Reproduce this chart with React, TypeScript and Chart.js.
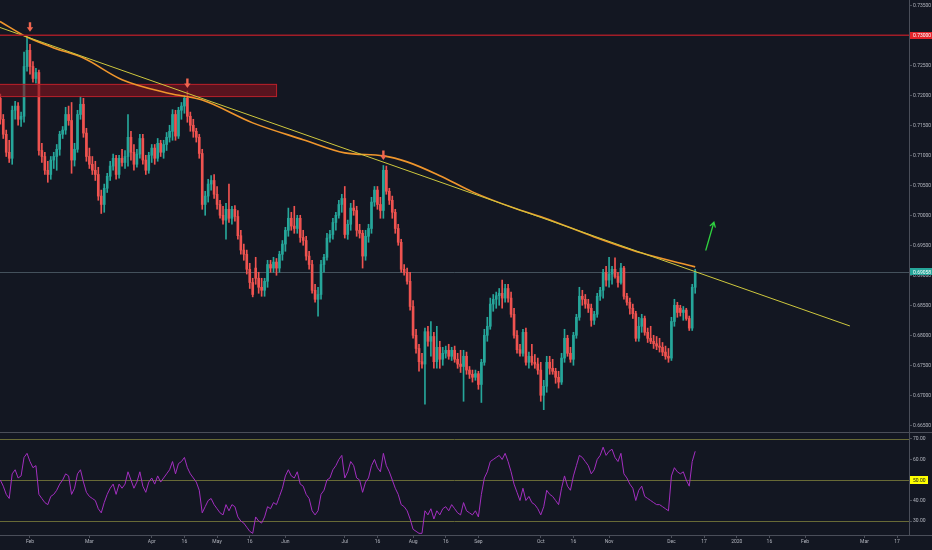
import React, { useEffect, useRef } from 'react';
import { Chart, registerables } from 'chart.js';

Chart.register(...registerables);

// ---- daily candles (index 0 = 18 Jan 2019, trading days only) ----
const opens = [
  0.7195, 0.7160, 0.7135, 0.7105, 0.7095, 0.7175, 0.7182, 0.7160, 0.7165, 0.7248,
  0.7275, 0.7248, 0.7228, 0.7238, 0.7108, 0.7098, 0.7075, 0.7068, 0.7092, 0.7098,
  0.7110, 0.7135, 0.7142, 0.7168, 0.7158, 0.7092, 0.7110, 0.7168, 0.7185, 0.7137,
  0.7098, 0.7085, 0.7075, 0.7068, 0.7032, 0.7018, 0.7045, 0.7065, 0.7082, 0.7095,
  0.7068, 0.7095, 0.7088, 0.7098, 0.7130, 0.7105, 0.7085, 0.7102, 0.7128, 0.7092,
  0.7075, 0.7100, 0.7112, 0.7095, 0.7120, 0.7105, 0.7118, 0.7130, 0.7140, 0.7168,
  0.7132, 0.7175, 0.7182, 0.7195, 0.7165, 0.7150, 0.7140, 0.7130, 0.7103, 0.7018,
  0.7032, 0.7052, 0.7058, 0.7035, 0.7018, 0.7000, 0.6992, 0.7010, 0.6995, 0.7010,
  0.6998, 0.6966, 0.6942, 0.6935, 0.6910, 0.6888, 0.6912, 0.6895, 0.6880, 0.6875,
  0.6890, 0.6918, 0.6912, 0.6922, 0.6912, 0.6935, 0.6952, 0.6975, 0.6995, 0.6982,
  0.6978, 0.6995, 0.6963, 0.6958, 0.6932, 0.6918, 0.6875, 0.6860, 0.6868, 0.6918,
  0.6930, 0.6962, 0.6968, 0.6988, 0.7000, 0.7018, 0.7028, 0.6968, 0.6985, 0.7012,
  0.7008, 0.6975, 0.6970, 0.6932, 0.6965, 0.6978, 0.7022, 0.7042, 0.7018, 0.7008,
  0.7075, 0.7040, 0.7025, 0.7005, 0.6978, 0.6955, 0.6910, 0.6905, 0.6890, 0.6848,
  0.6800, 0.6778, 0.6756, 0.6752, 0.6806, 0.6790, 0.6798, 0.6756, 0.6780, 0.6760,
  0.6770, 0.6775, 0.6765, 0.6775, 0.6760, 0.6752, 0.6748, 0.6765, 0.6742, 0.6735,
  0.6730, 0.6736, 0.6718, 0.6755, 0.6800, 0.6815, 0.6852, 0.6860, 0.6866, 0.6870,
  0.6862, 0.6878, 0.6862, 0.6835, 0.6800, 0.6776, 0.6770, 0.6805, 0.6755, 0.6765,
  0.6755, 0.6752, 0.6742, 0.6700, 0.6715, 0.6755, 0.6745, 0.6740, 0.6730, 0.6722,
  0.6762, 0.6795, 0.6770, 0.6760, 0.6800, 0.6830, 0.6865, 0.6860, 0.6852, 0.6845,
  0.6825, 0.6835, 0.6865, 0.6875, 0.6905, 0.6892, 0.6902, 0.6910, 0.6898, 0.6888,
  0.6912, 0.6865, 0.6855, 0.6845, 0.6836, 0.6795, 0.6815, 0.6828, 0.6805, 0.6795,
  0.6790, 0.6786, 0.6782, 0.6780, 0.6772, 0.6765, 0.6762, 0.6823, 0.6850, 0.6845,
  0.6838, 0.6842, 0.6828, 0.6812, 0.6880,
];
const highs = [
  0.7202, 0.7168, 0.7142, 0.7125, 0.7182, 0.7190, 0.7188, 0.7172, 0.7272, 0.7296,
  0.7285, 0.7256, 0.7245, 0.7242, 0.7120, 0.7105, 0.7090, 0.7098, 0.7105, 0.7118,
  0.7140, 0.7148, 0.7180, 0.7182, 0.7188, 0.7120, 0.7175, 0.7198, 0.7195, 0.7145,
  0.7112, 0.7098, 0.7090, 0.7080, 0.7042, 0.7052, 0.7070, 0.7090, 0.7102, 0.7100,
  0.7100, 0.7110, 0.7108, 0.7168, 0.7140, 0.7118, 0.7110, 0.7135, 0.7135, 0.7100,
  0.7105, 0.7118, 0.7118, 0.7128, 0.7125, 0.7125, 0.7138, 0.7150, 0.7176, 0.7175,
  0.7180, 0.7188, 0.7200, 0.7207, 0.7172, 0.7160, 0.7145, 0.7135, 0.7110, 0.7040,
  0.7060, 0.7066, 0.7068, 0.7048, 0.7025, 0.7015, 0.7020, 0.7052, 0.7015, 0.7016,
  0.7008, 0.6975, 0.6952, 0.6942, 0.6920, 0.6895, 0.6930, 0.6905, 0.6895, 0.6895,
  0.6925, 0.6925, 0.6930, 0.6928, 0.6940, 0.6958, 0.6980, 0.7012, 0.7005, 0.7015,
  0.7000, 0.7000, 0.6975, 0.6965, 0.6940, 0.6925, 0.6885, 0.6880, 0.6925, 0.6935,
  0.6970, 0.6975, 0.6995, 0.7005, 0.7025, 0.7035, 0.7048, 0.6992, 0.7020, 0.7025,
  0.7015, 0.6985, 0.6975, 0.6975, 0.6985, 0.7030, 0.7048, 0.7048, 0.7030, 0.7083,
  0.7082, 0.7045, 0.7032, 0.7010, 0.6985, 0.6960, 0.6918, 0.6912, 0.6905, 0.6858,
  0.6810, 0.6785, 0.6770, 0.6812, 0.6815, 0.6823, 0.6805, 0.6815, 0.6790, 0.6780,
  0.6782, 0.6785, 0.6780, 0.6782, 0.6770, 0.6775, 0.6775, 0.6772, 0.6748, 0.6742,
  0.6742, 0.6740, 0.6760, 0.6810, 0.6830, 0.6862, 0.6868, 0.6872, 0.6878, 0.6892,
  0.6885, 0.6885, 0.6872, 0.6845, 0.6808, 0.6785, 0.6810, 0.6812, 0.6772, 0.6785,
  0.6768, 0.6762, 0.6755, 0.6725, 0.6765, 0.6765, 0.6760, 0.6745, 0.6740, 0.6770,
  0.6810, 0.6800, 0.6780, 0.6805, 0.6835, 0.6880, 0.6875, 0.6868, 0.6860, 0.6852,
  0.6840, 0.6870, 0.6880, 0.6910, 0.6915, 0.6930, 0.6915, 0.6929, 0.6905, 0.6920,
  0.6915, 0.6870, 0.6862, 0.6852, 0.6840, 0.6830, 0.6835, 0.6832, 0.6812, 0.6815,
  0.6800, 0.6798, 0.6795, 0.6788, 0.6782, 0.6778, 0.6830, 0.6860, 0.6855, 0.6850,
  0.6848, 0.6845, 0.6832, 0.6885, 0.6910,
];
const lows = [
  0.7152, 0.7128, 0.7098, 0.7088, 0.7085, 0.7160, 0.7150, 0.7148, 0.7155, 0.7240,
  0.7235, 0.7222, 0.7220, 0.7100, 0.7088, 0.7068, 0.7055, 0.7060, 0.7078, 0.7075,
  0.7100, 0.7128, 0.7135, 0.7150, 0.7070, 0.7082, 0.7105, 0.7160, 0.7130, 0.7090,
  0.7078, 0.7068, 0.7058, 0.7025, 0.7003, 0.7005, 0.7038, 0.7058, 0.7075, 0.7060,
  0.7062, 0.7082, 0.7078, 0.7082, 0.7092, 0.7075, 0.7080, 0.7095, 0.7085, 0.7068,
  0.7070, 0.7088, 0.7085, 0.7090, 0.7098, 0.7095, 0.7108, 0.7122, 0.7125, 0.7125,
  0.7128, 0.7160, 0.7170, 0.7155, 0.7140, 0.7130, 0.7122, 0.7095, 0.7010, 0.7000,
  0.7022, 0.7042, 0.7028, 0.7010, 0.6995, 0.6985, 0.6960, 0.6988, 0.6985, 0.6990,
  0.6960, 0.6935, 0.6925, 0.6902, 0.6878, 0.6864, 0.6885, 0.6870, 0.6865, 0.6865,
  0.6880, 0.6905, 0.6905, 0.6900, 0.6905, 0.6925, 0.6940, 0.6965, 0.6975, 0.6970,
  0.6970, 0.6955, 0.6950, 0.6925, 0.6910, 0.6870, 0.6855, 0.6832, 0.6860, 0.6905,
  0.6925, 0.6955, 0.6960, 0.6975, 0.6995, 0.7005, 0.6962, 0.6960, 0.6975, 0.7000,
  0.6965, 0.6962, 0.6912, 0.6925, 0.6955, 0.6970, 0.7015, 0.7010, 0.6995, 0.6995,
  0.7035, 0.7018, 0.6995, 0.6970, 0.6950, 0.6905, 0.6900, 0.6885, 0.6842, 0.6795,
  0.6770, 0.6740, 0.6745, 0.6685, 0.6782, 0.6765, 0.6745, 0.6745, 0.6745, 0.6750,
  0.6762, 0.6760, 0.6758, 0.6755, 0.6745, 0.6738, 0.6690, 0.6735, 0.6728, 0.6722,
  0.6725, 0.6710, 0.6688, 0.6750, 0.6790, 0.6810, 0.6840, 0.6845, 0.6850, 0.6845,
  0.6855, 0.6855, 0.6830, 0.6795, 0.6770, 0.6765, 0.6765, 0.6750, 0.6745, 0.6750,
  0.6745, 0.6735, 0.6690, 0.6676, 0.6705, 0.6735, 0.6735, 0.6720, 0.6712, 0.6718,
  0.6755, 0.6765, 0.6755, 0.6750, 0.6795, 0.6825, 0.6850, 0.6845, 0.6838, 0.6815,
  0.6818, 0.6830, 0.6858, 0.6862, 0.6882, 0.6880, 0.6885, 0.6895, 0.6880, 0.6885,
  0.6860, 0.6850, 0.6835, 0.6828, 0.6790, 0.6790, 0.6805, 0.6800, 0.6788, 0.6786,
  0.6778, 0.6776, 0.6772, 0.6766, 0.6760, 0.6755, 0.6758, 0.6815, 0.6830, 0.6832,
  0.6825, 0.6825, 0.6808, 0.6808, 0.6870,
];
const closes = [
  0.7160, 0.7135, 0.7105, 0.7095, 0.7175, 0.7182, 0.7160, 0.7165, 0.7248, 0.7275,
  0.7248, 0.7228, 0.7238, 0.7108, 0.7098, 0.7075, 0.7068, 0.7092, 0.7098, 0.7110,
  0.7135, 0.7142, 0.7168, 0.7158, 0.7092, 0.7110, 0.7168, 0.7185, 0.7137, 0.7098,
  0.7085, 0.7075, 0.7068, 0.7032, 0.7018, 0.7045, 0.7065, 0.7082, 0.7095, 0.7068,
  0.7095, 0.7088, 0.7098, 0.7130, 0.7105, 0.7085, 0.7102, 0.7128, 0.7092, 0.7075,
  0.7100, 0.7112, 0.7095, 0.7120, 0.7105, 0.7118, 0.7130, 0.7140, 0.7168, 0.7132,
  0.7175, 0.7182, 0.7195, 0.7165, 0.7150, 0.7140, 0.7130, 0.7103, 0.7018, 0.7032,
  0.7052, 0.7058, 0.7035, 0.7018, 0.7000, 0.6992, 0.7010, 0.6995, 0.7010, 0.6998,
  0.6966, 0.6942, 0.6935, 0.6910, 0.6888, 0.6868, 0.6895, 0.6880, 0.6875, 0.6890,
  0.6918, 0.6912, 0.6922, 0.6912, 0.6935, 0.6952, 0.6975, 0.6995, 0.6982, 0.6978,
  0.6995, 0.6963, 0.6958, 0.6932, 0.6918, 0.6875, 0.6860, 0.6868, 0.6918, 0.6930,
  0.6962, 0.6968, 0.6988, 0.7000, 0.7018, 0.7028, 0.6968, 0.6985, 0.7012, 0.7008,
  0.6975, 0.6970, 0.6932, 0.6965, 0.6978, 0.7022, 0.7042, 0.7018, 0.7008, 0.7075,
  0.7040, 0.7025, 0.7005, 0.6978, 0.6955, 0.6910, 0.6905, 0.6890, 0.6848, 0.6800,
  0.6778, 0.6756, 0.6752, 0.6806, 0.6790, 0.6798, 0.6756, 0.6780, 0.6760, 0.6770,
  0.6775, 0.6765, 0.6775, 0.6760, 0.6752, 0.6748, 0.6765, 0.6742, 0.6735, 0.6730,
  0.6736, 0.6718, 0.6755, 0.6800, 0.6815, 0.6852, 0.6860, 0.6866, 0.6870, 0.6862,
  0.6878, 0.6862, 0.6835, 0.6800, 0.6776, 0.6770, 0.6805, 0.6755, 0.6765, 0.6755,
  0.6752, 0.6742, 0.6700, 0.6715, 0.6755, 0.6745, 0.6740, 0.6730, 0.6722, 0.6762,
  0.6795, 0.6770, 0.6760, 0.6800, 0.6830, 0.6865, 0.6860, 0.6852, 0.6845, 0.6825,
  0.6835, 0.6865, 0.6875, 0.6905, 0.6892, 0.6902, 0.6910, 0.6898, 0.6888, 0.6912,
  0.6865, 0.6855, 0.6845, 0.6836, 0.6795, 0.6815, 0.6828, 0.6805, 0.6795, 0.6790,
  0.6786, 0.6782, 0.6780, 0.6772, 0.6765, 0.6762, 0.6823, 0.6850, 0.6838, 0.6838,
  0.6842, 0.6828, 0.6812, 0.6880, 0.69058,
];

// ---- RSI (one value per candle) ----
const rsiValues = [
  50, 47, 43, 41, 53, 55, 51, 52, 61, 63,
  59, 56, 57, 43, 41, 39, 38, 42, 43, 45,
  48, 50, 53, 52, 43, 46, 53, 55, 49, 44,
  42, 41, 40, 36, 34, 39, 43, 46, 48, 43,
  48, 46, 48, 54, 50, 46, 49, 54, 47, 44,
  49, 51, 48, 52, 49, 51, 53, 55, 59, 53,
  58, 59, 61, 56, 53, 51, 49, 45, 34, 37,
  40, 41, 38, 36, 34, 33, 38, 35, 38, 37,
  32, 30, 29, 27, 25, 24, 32, 30, 29, 32,
  37, 36, 39, 38, 42, 46, 52, 55, 52, 51,
  54, 48, 47, 43, 41, 35, 33, 35, 43, 45,
  50, 51, 55, 57, 60, 62, 51, 54, 59, 57,
  51, 50, 44, 49, 51, 57, 60, 56, 54, 63,
  57, 54, 50, 46, 43, 38, 37, 35, 31, 26,
  25, 24, 24, 35, 33, 36, 31, 35, 33, 36,
  37, 35, 38, 36, 34, 33, 39, 35, 34, 33,
  35, 32, 43, 51, 54, 59, 60, 61, 62, 60,
  63, 59, 54, 48, 44, 40, 46, 40, 42, 39,
  38, 36, 33, 37, 45, 43, 42, 40, 38, 46,
  52, 47, 45, 52, 57, 62, 61, 59, 57, 53,
  55, 60, 62, 66, 62, 64, 65, 61, 59, 63,
  53, 51, 48, 46, 40, 45, 47, 42, 41, 40,
  39, 38, 38, 37, 36, 35, 52, 56, 54, 53,
  54, 50, 47, 59, 64,
];

// ---- moving average (orange) read at sample days ----
const maDays = [-0.1, 9, 18, 28, 41, 57, 68, 85, 102, 116, 129, 137, 148, 159, 173, 183, 200, 216, 234];
const maValues = [0.7323, 0.7297, 0.7279, 0.7262, 0.7226, 0.7203, 0.7192, 0.7154, 0.7126, 0.7104, 0.7099, 0.7089, 0.7066, 0.7039, 0.7012, 0.6996, 0.6964, 0.6937, 0.6914];

// ---- drawings ----
const trendDays = [-0.1, 286.1];
const trendValues = [0.7313, 0.68155];
const zoneDays = [-1, 93.2];
const zonePrices = [0.7197, 0.7219];
const resistanceLevel = 0.73;
const lastPrice = 0.69058;
const arrowDays = [10, 63, 129];
const arrowPrices = [0.7306, 0.7212, 0.7092];
const greenArrowDays = [237.6, 240.3];
const greenArrowPrices = [0.69421, 0.69883];

// ---- axes ----
const tickDays = [10, 30, 51, 62, 73, 84, 96, 116, 127, 139, 150, 161, 182, 193, 205, 226, 237, 248, 259, 271, 291, 302];
const tickLabels = ['Feb', 'Mar', 'Apr', '16', 'May', '16', 'Jun', 'Jul', '16', 'Aug', '16', 'Sep', 'Oct', '16', 'Nov', 'Dec', '17', '2020', '16', 'Feb', 'Mar', '17'];
const priceTicks = [0.665, 0.67, 0.675, 0.68, 0.685, 0.69, 0.695, 0.7, 0.705, 0.71, 0.715, 0.72, 0.725, 0.73, 0.735];
const rsiTicks = [30, 40, 50, 60, 70];
const rsiLevels = [70, 50, 30];

const X_MIN = -0.1;
const X_MAX = 306;
const P_MIN = 0.66388;
const P_MAX = 0.73588;
const R_MIN = 23.2;
const R_MAX = 73.4;

const BG = '#131722';
const UP = '#26a69a';
const DOWN = '#ef5350';
const FONT = 'Roboto, "Liberation Sans", "DejaVu Sans", sans-serif';
const TEXT = '#b2b5be';
const LINE = '#4a4e59';

function candleColor(c: any) {
  const i = c.dataIndex;
  return closes[i] >= opens[i] ? UP : DOWN;
}

function drawTag(ctx: any, x: number, yc: number, w: number, h: number, bg: string, fg: string, text: string) {
  ctx.save();
  ctx.fillStyle = bg;
  ctx.fillRect(x, Math.round(yc - h / 2), w, h);
  ctx.fillStyle = fg;
  ctx.font = `5px ${FONT}`;
  ctx.textAlign = 'left';
  ctx.textBaseline = 'middle';
  ctx.fillText(text, x + 3, yc + 0.5);
  ctx.restore();
}

function noPadding(s: any) {
  s.paddingTop = 0;
  s.paddingBottom = 0;
  s.paddingLeft = 0;
  s.paddingRight = 0;
}

const priceOverlay = {
  id: 'priceOverlay',
  beforeDatasetsDraw(chart: any) {
    const { ctx, chartArea, scales } = chart;
    const py = Math.round(scales.y.getPixelForValue(lastPrice)) + 0.5;
    ctx.save();
    ctx.strokeStyle = 'rgba(110,130,140,0.55)';
    ctx.lineWidth = 1;
    ctx.beginPath();
    ctx.moveTo(chartArea.left, py);
    ctx.lineTo(chartArea.right, py);
    ctx.stroke();
    ctx.restore();
  },
  afterDatasetDraw(chart: any, args: any) {
    if (args.index !== 1) return;
    const { ctx, scales } = chart;
    const x0 = scales.x.getPixelForValue(zoneDays[0]);
    const x1 = scales.x.getPixelForValue(zoneDays[1]);
    const y0 = scales.y.getPixelForValue(zonePrices[1]);
    const y1 = scales.y.getPixelForValue(zonePrices[0]);
    ctx.save();
    ctx.fillStyle = 'rgba(135, 18, 30, 0.6)';
    ctx.fillRect(x0, y0, x1 - x0, y1 - y0);
    ctx.strokeStyle = 'rgba(200, 35, 45, 0.85)';
    ctx.lineWidth = 1;
    ctx.strokeRect(x0 + 0.5, y0 + 0.5, x1 - x0 - 1, y1 - y0 - 1);
    ctx.restore();
  },
  afterDatasetsDraw(chart: any) {
    const { ctx, chartArea, scales } = chart;
    ctx.save();
    const ry = scales.y.getPixelForValue(resistanceLevel);
    ctx.strokeStyle = '#a11d27';
    ctx.lineWidth = 1.6;
    ctx.beginPath();
    ctx.moveTo(chartArea.left, ry);
    ctx.lineTo(chartArea.right, ry);
    ctx.stroke();
    ctx.fillStyle = '#f0654f';
    arrowDays.forEach((d, i) => {
      const x = scales.x.getPixelForValue(d);
      const y = scales.y.getPixelForValue(arrowPrices[i]);
      ctx.beginPath();
      ctx.moveTo(x, y);
      ctx.lineTo(x - 3.2, y - 4.5);
      ctx.lineTo(x - 1.2, y - 4.5);
      ctx.lineTo(x - 1.2, y - 9.5);
      ctx.lineTo(x + 1.2, y - 9.5);
      ctx.lineTo(x + 1.2, y - 4.5);
      ctx.lineTo(x + 3.2, y - 4.5);
      ctx.closePath();
      ctx.fill();
    });
    const gx0 = scales.x.getPixelForValue(greenArrowDays[0]);
    const gx1 = scales.x.getPixelForValue(greenArrowDays[1]);
    const gy0 = scales.y.getPixelForValue(greenArrowPrices[0]);
    const gy1 = scales.y.getPixelForValue(greenArrowPrices[1]);
    const ang = Math.atan2(gy1 - gy0, gx1 - gx0);
    ctx.strokeStyle = '#2fd13f';
    ctx.lineWidth = 1.3;
    ctx.lineCap = 'round';
    ctx.beginPath();
    ctx.moveTo(gx0, gy0);
    ctx.lineTo(gx1, gy1);
    ctx.moveTo(gx1 - 5 * Math.cos(ang - 0.55), gy1 - 5 * Math.sin(ang - 0.55));
    ctx.lineTo(gx1, gy1);
    ctx.lineTo(gx1 - 5 * Math.cos(ang + 0.55), gy1 - 5 * Math.sin(ang + 0.55));
    ctx.stroke();
    ctx.restore();
  },
  afterDraw(chart: any) {
    const { ctx, chartArea, scales } = chart;
    const x = chartArea.right + 1;
    drawTag(ctx, x, scales.y.getPixelForValue(resistanceLevel), 22, 7, '#e2242b', '#ffffff', resistanceLevel.toFixed(5));
    drawTag(ctx, x, scales.y.getPixelForValue(lastPrice), 22, 7, '#26a69a', '#ffffff', lastPrice.toFixed(5));
  },
};

const rsiOverlay = {
  id: 'rsiOverlay',
  beforeDatasetsDraw(chart: any) {
    const { ctx, chartArea, scales } = chart;
    ctx.save();
    ctx.strokeStyle = '#686a36';
    ctx.lineWidth = 1;
    rsiLevels.forEach((lv) => {
      const y = Math.round(scales.y.getPixelForValue(lv)) + 0.5;
      ctx.beginPath();
      ctx.moveTo(chartArea.left, y);
      ctx.lineTo(chartArea.right, y);
      ctx.stroke();
    });
    ctx.restore();
  },
  afterDraw(chart: any) {
    const { ctx, chartArea, width, scales } = chart;
    ctx.save();
    ctx.strokeStyle = LINE;
    ctx.lineWidth = 1;
    ctx.beginPath();
    ctx.moveTo(0, 0.5);
    ctx.lineTo(width, 0.5);
    const by = Math.round(chartArea.bottom) + 0.5;
    ctx.moveTo(0, by);
    ctx.lineTo(width, by);
    ctx.stroke();
    ctx.restore();
    drawTag(ctx, chartArea.right + 1, scales.y.getPixelForValue(50), 18, 8, '#ffff00', '#131722', '50.00');
  },
};

const axisTicks = { color: TEXT, font: { size: 5, family: FONT }, padding: 1, autoSkip: false, maxRotation: 0 };
const axisGrid = { drawOnChartArea: false, drawTicks: true, tickLength: 3, color: LINE };

export default function App() {
  const refA = useRef<HTMLCanvasElement | null>(null);
  const refB = useRef<HTMLCanvasElement | null>(null);

  useEffect(() => {
    if (!refA.current || !refB.current) return;
    const wickData = highs.map((h, i) => ({ x: i, y: [lows[i], h] }));
    const bodyData = opens.map((o, i) => ({ x: i, y: [o, closes[i]] }));
    const maData = maDays.map((d, i) => ({ x: d, y: maValues[i] }));
    const trendData = trendDays.map((d, i) => ({ x: d, y: trendValues[i] }));
    const rsiData = rsiValues.map((v, i) => ({ x: i, y: v }));

    const chartA = new Chart(refA.current, {
      type: 'bar',
      data: {
        datasets: [
          { type: 'bar', label: 'wicks', data: wickData as any, backgroundColor: candleColor, borderWidth: 0, barThickness: 1, grouped: false, order: 3 } as any,
          { type: 'bar', label: 'bodies', data: bodyData as any, backgroundColor: candleColor, borderWidth: 0, barThickness: 2, minBarLength: 1, grouped: false, order: 2 } as any,
          { type: 'line', label: 'MA', data: maData as any, borderColor: '#f0962c', borderWidth: 1.6, pointRadius: 0, tension: 0.4, cubicInterpolationMode: 'monotone', order: 1 } as any,
          { type: 'line', label: 'Trend', data: trendData as any, borderColor: '#cfc83e', borderWidth: 1, pointRadius: 0, order: 0 } as any,
        ],
      },
      options: {
        animation: false,
        responsive: false,
        devicePixelRatio: 1,
        events: [],
        layout: { padding: 0 },
        plugins: { legend: { display: false }, tooltip: { enabled: false } },
        scales: {
          x: { type: 'linear', display: false, min: X_MIN, max: X_MAX, offset: false, grid: { offset: false } },
          y: {
            type: 'linear',
            position: 'right',
            min: P_MIN,
            max: P_MAX,
            beginAtZero: false,
            afterFit: (s: any) => { s.width = 23; noPadding(s); },
            afterBuildTicks: (s: any) => { s.ticks = priceTicks.map((v) => ({ value: v })); },
            ticks: { ...axisTicks, callback: (v: any) => Number(v).toFixed(5) },
            grid: axisGrid,
            border: { display: true, color: LINE },
          },
        },
      } as any,
      plugins: [priceOverlay as any],
    });

    const chartB = new Chart(refB.current, {
      type: 'line',
      data: {
        datasets: [
          { label: 'RSI', data: rsiData as any, borderColor: '#a32fc0', borderWidth: 1, pointRadius: 0, tension: 0 } as any,
        ],
      },
      options: {
        animation: false,
        responsive: false,
        devicePixelRatio: 1,
        events: [],
        layout: { padding: 0 },
        plugins: { legend: { display: false }, tooltip: { enabled: false } },
        scales: {
          x: {
            type: 'linear',
            position: 'bottom',
            min: X_MIN,
            max: X_MAX,
            offset: false,
            afterFit: (s: any) => { s.height = 15; noPadding(s); },
            afterBuildTicks: (s: any) => { s.ticks = tickDays.map((v) => ({ value: v })); },
            ticks: { ...axisTicks, callback: (_v: any, i: number) => tickLabels[i] },
            grid: axisGrid,
            border: { display: true, color: LINE },
          },
          y: {
            type: 'linear',
            position: 'right',
            min: R_MIN,
            max: R_MAX,
            afterFit: (s: any) => { s.width = 23; noPadding(s); },
            afterBuildTicks: (s: any) => { s.ticks = rsiTicks.map((v) => ({ value: v })); },
            ticks: { ...axisTicks, callback: (v: any) => Number(v).toFixed(2) },
            grid: axisGrid,
            border: { display: true, color: LINE },
          },
        },
      } as any,
      plugins: [rsiOverlay as any],
    });

    return () => {
      chartA.destroy();
      chartB.destroy();
    };
  }, []);

  return (
    <div style={{ position: 'fixed', left: 0, top: 0, width: 932, height: 550, background: BG, overflow: 'hidden' }}>
      <canvas ref={refA} width={932} height={432} style={{ position: 'absolute', left: 0, top: 0, width: 932, height: 432 }} />
      <canvas ref={refB} width={932} height={118} style={{ position: 'absolute', left: 0, top: 432, width: 932, height: 118 }} />
    </div>
  );
}
